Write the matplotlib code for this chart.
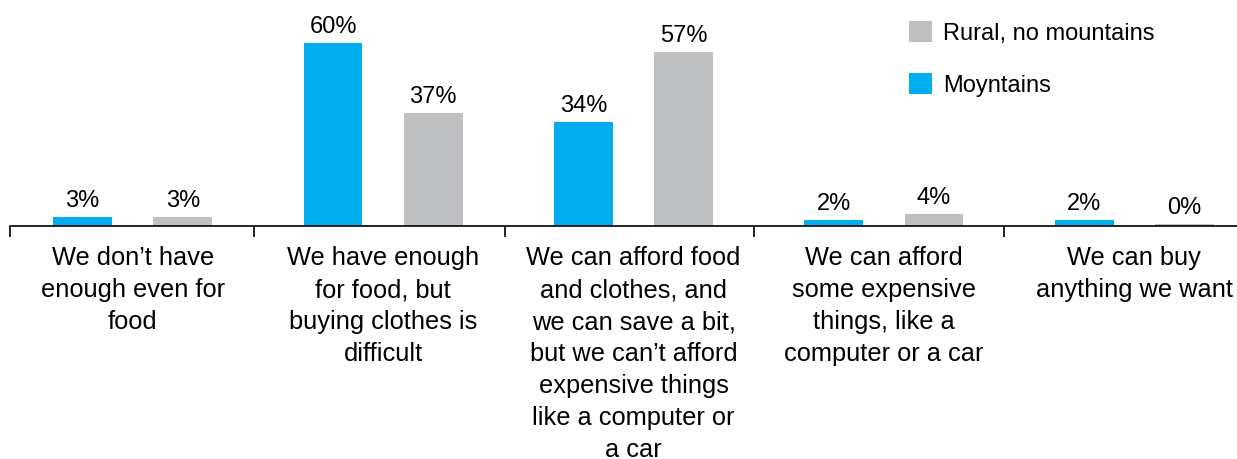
import matplotlib
matplotlib.use('Agg')
import matplotlib.pyplot as plt
import numpy as np
from matplotlib.patches import Patch

plt.rcParams['font.family'] = ['Liberation Sans', 'DejaVu Sans']

categories = ["We don\u2019t have\nenough even for\nfood",
              "We have enough\nfor food, but\nbuying clothes is\ndifficult",
              "We can afford food\nand clothes, and\nwe can save a bit,\nbut we can\u2019t afford\nexpensive things\nlike a computer or\na car",
              "We can afford\nsome expensive\nthings, like a\ncomputer or a car",
              "We can buy\nanything we want"]
mountains = [3, 60, 34, 2, 2]
rural = [3, 37, 57, 4, 0]

blue = '#00AEEF'
grey = '#BEBFC1'
fontSize = 17
catFontSize = 18.3

fig = plt.figure(figsize=(12.37, 4.6), dpi=100)
ax = fig.add_axes([10 / 1237, 1 - 227 / 460, 1 - 10 / 1237, 227 / 460])

pos = np.arange(len(categories))
width = 0.235
off = 0.2

b1 = ax.bar(pos - off, mountains, width, color=blue)
# zero values still get a thin line so the bar is visible
rural_drawn = [v if v > 0 else 0.6 for v in rural]
b2 = ax.bar(pos + off, rural_drawn, width, color=grey)

for i in range(len(categories)):
    ax.annotate("%d%%" % mountains[i], (pos[i] - off, mountains[i]),
                xytext=(0, 8), textcoords='offset points',
                ha='center', va='baseline', fontsize=fontSize)
    ax.annotate("%d%%" % rural[i], (pos[i] + off, rural_drawn[i]),
                xytext=(0, 8), textcoords='offset points',
                ha='center', va='baseline', fontsize=fontSize)

ax.set_xlim(-0.49, 4.41)
ax.set_ylim(0, 74.4)

for s in ['top', 'right', 'left']:
    ax.spines[s].set_visible(False)
ax.spines['bottom'].set_linewidth(1.2)
ax.set_yticks([])

# group separators
ax.set_xticks([-0.489, 0.485, 1.487, 2.481, 3.479])
ax.set_xticklabels([])
ax.tick_params(axis='x', which='major', direction='out', length=8, width=1.2)

for i, c in enumerate(categories):
    ax.annotate(c, (pos[i], 0), xytext=(0, -14), textcoords='offset points',
                ha='center', va='top', fontsize=catFontSize, linespacing=1.42,
                annotation_clip=False)

handles = [Patch(facecolor=grey), Patch(facecolor=blue)]
fig.legend(handles, ['Rural, no mountains', 'Moyntains'],
           loc='upper left', bbox_to_anchor=(904 / 1237, 1 - 17 / 460),
           frameon=False, fontsize=fontSize, handlelength=1.0, handleheight=1.0,
           handletextpad=0.45, labelspacing=1.2, borderaxespad=0, borderpad=0.2)

fig.savefig('out.png', dpi=100)
